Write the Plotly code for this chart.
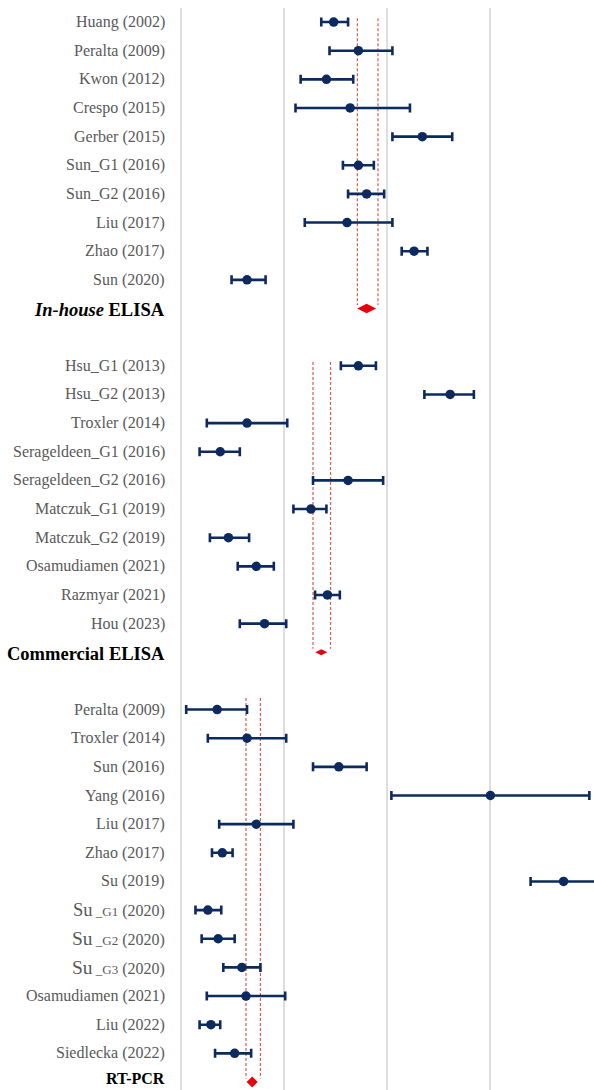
import plotly.graph_objects as go

# ---- study-level estimates (%), with 95% CI ----
inhouse_labels = ["Huang (2002)", "Peralta (2009)", "Kwon (2012)", "Crespo (2015)", "Gerber (2015)",
                  "Sun_G1 (2016)", "Sun_G2 (2016)", "Liu (2017)", "Zhao (2017)", "Sun (2020)"]
inhouse_est = [14.8, 17.2, 14.1, 16.4, 23.4, 17.2, 18.0, 16.1, 22.6, 6.4]
inhouse_lo = [13.6, 14.4, 11.6, 11.1, 20.5, 15.7, 16.2, 12.0, 21.4, 4.9]
inhouse_hi = [16.2, 20.5, 16.7, 22.2, 26.3, 18.7, 19.7, 20.5, 23.9, 8.2]

commercial_labels = ["Hsu_G1 (2013)", "Hsu_G2 (2013)", "Troxler (2014)", "Serageldeen_G1 (2016)",
                     "Serageldeen_G2 (2016)", "Matczuk_G1 (2019)", "Matczuk_G2 (2019)",
                     "Osamudiamen (2021)", "Razmyar (2021)", "Hou (2023)"]
commercial_est = [17.2, 26.1, 6.4, 3.8, 16.2, 12.6, 4.6, 7.3, 14.2, 8.1]
commercial_lo = [15.5, 23.6, 2.5, 1.8, 12.8, 10.9, 2.8, 5.5, 13.0, 5.7]
commercial_hi = [18.9, 28.4, 10.3, 5.7, 19.6, 14.1, 6.6, 9.0, 15.4, 10.2]

rtpcr_labels = ["Peralta (2009)", "Troxler (2014)", "Sun (2016)", "Yang (2016)", "Liu (2017)",
                "Zhao (2017)", "Su (2019)",
                "<span style='font-size:18.5px'>Su</span><span style='font-size:13px'> _G1</span> (2020)",
                "<span style='font-size:19.5px'>Su</span><span style='font-size:13px'> _G2</span> (2020)",
                "<span style='font-size:19.5px'>Su</span><span style='font-size:13px'> _G3</span> (2020)",
                "Osamudiamen (2021)", "Liu (2022)", "Siedlecka (2022)"]
rtpcr_est = [3.5, 6.4, 15.3, 30.0, 7.3, 4.0, 37.1, 2.6, 3.6, 5.9, 6.3, 2.9, 5.2]
rtpcr_lo = [0.5, 2.6, 12.8, 20.4, 3.7, 3.0, 33.9, 1.4, 2.0, 4.1, 2.5, 1.8, 3.3]
rtpcr_hi = [6.4, 10.2, 18.0, 39.6, 10.9, 5.0, 40.4, 3.9, 5.2, 7.7, 10.1, 3.8, 6.8]

# ---- pooled estimates per assay group ----
group_names = ["<b><i>In-house</i> ELISA</b>", "<b>Commercial ELISA</b>", "<b>RT-PCR</b>"]
pooled_est = [18.0, 13.6, 6.9]
pooled_lo = [17.1, 12.8, 6.3]
pooled_hi = [19.1, 14.5, 7.7]

NAVY = "#0C2A5E"
RED = "#E8000B"
DASH_RED = "rgb(214,92,80)"
GREY_TXT = "#595959"

groups = [
    (inhouse_labels, inhouse_est, inhouse_lo, inhouse_hi),
    (commercial_labels, commercial_est, commercial_lo, commercial_hi),
    (rtpcr_labels, rtpcr_est, rtpcr_lo, rtpcr_hi),
]
diamond_style = [("diamond-wide", 13.5), ("diamond-wide", 8.5), ("diamond", 8.5)]
group_label_size = [18.5, 18.5, 16]
group_label_shift = [0.05, 0.05, -0.12]

fig = go.Figure()
annotations = []
row = 0
for gi, (labels, est, lo, hi) in enumerate(groups):
    rows = list(range(row, row + len(labels)))
    summary_row = row + len(labels)

    # pooled CI as dashed verticals
    top = row - (0.4 if gi == 2 else 0.13)
    bottom = summary_row - 0.12
    for xv in (pooled_lo[gi], pooled_hi[gi]):
        fig.add_trace(go.Scatter(x=[xv, xv], y=[top, bottom], mode="lines",
                                 line=dict(color=DASH_RED, width=1.2, dash="3px,2px"),
                                 hoverinfo="skip", showlegend=False))

    # individual studies
    fig.add_trace(go.Scatter(
        x=est, y=rows, mode="markers",
        marker=dict(color=NAVY, size=9.5),
        error_x=dict(type="data", symmetric=False,
                     array=[h - e for h, e in zip(hi, est)],
                     arrayminus=[e - l for e, l in zip(est, lo)],
                     color=NAVY, thickness=2.6, width=4.5),
        showlegend=False))

    # pooled diamond
    sym, sz = diamond_style[gi]
    fig.add_trace(go.Scatter(x=[pooled_est[gi]], y=[summary_row], mode="markers",
                             marker=dict(symbol=sym, size=sz, color=RED, line=dict(width=0)),
                             showlegend=False))

    for r, lab in zip(rows, labels):
        annotations.append(dict(x=0, xref="paper", xshift=-13, xanchor="right",
                                y=r, yref="y", yanchor="middle", text=lab, showarrow=False,
                                font=dict(family="Liberation Serif", size=16, color=GREY_TXT)))
    annotations.append(dict(x=0, xref="paper", xshift=-13, xanchor="right",
                            y=summary_row + group_label_shift[gi], yref="y", yanchor="middle",
                            text=group_names[gi], showarrow=False,
                            font=dict(family="Liberation Serif", size=group_label_size[gi],
                                      color="#000000")))
    row = summary_row + 2

fig.update_layout(
    width=594, height=1090,
    margin=dict(l=180, r=0, t=8, b=0),
    paper_bgcolor="white", plot_bgcolor="white",
    annotations=annotations,
    xaxis=dict(range=[-0.1, 40.05], tickvals=[0, 10, 20, 30, 40], showticklabels=False,
               showgrid=True, gridcolor="#dedede", gridwidth=1.6, zeroline=False,
               showline=False, ticks=""),
    yaxis=dict(range=[37.28, -0.49], showgrid=False, zeroline=False, showticklabels=False,
               showline=False, ticks=""),
)

fig.write_html("out.html")
